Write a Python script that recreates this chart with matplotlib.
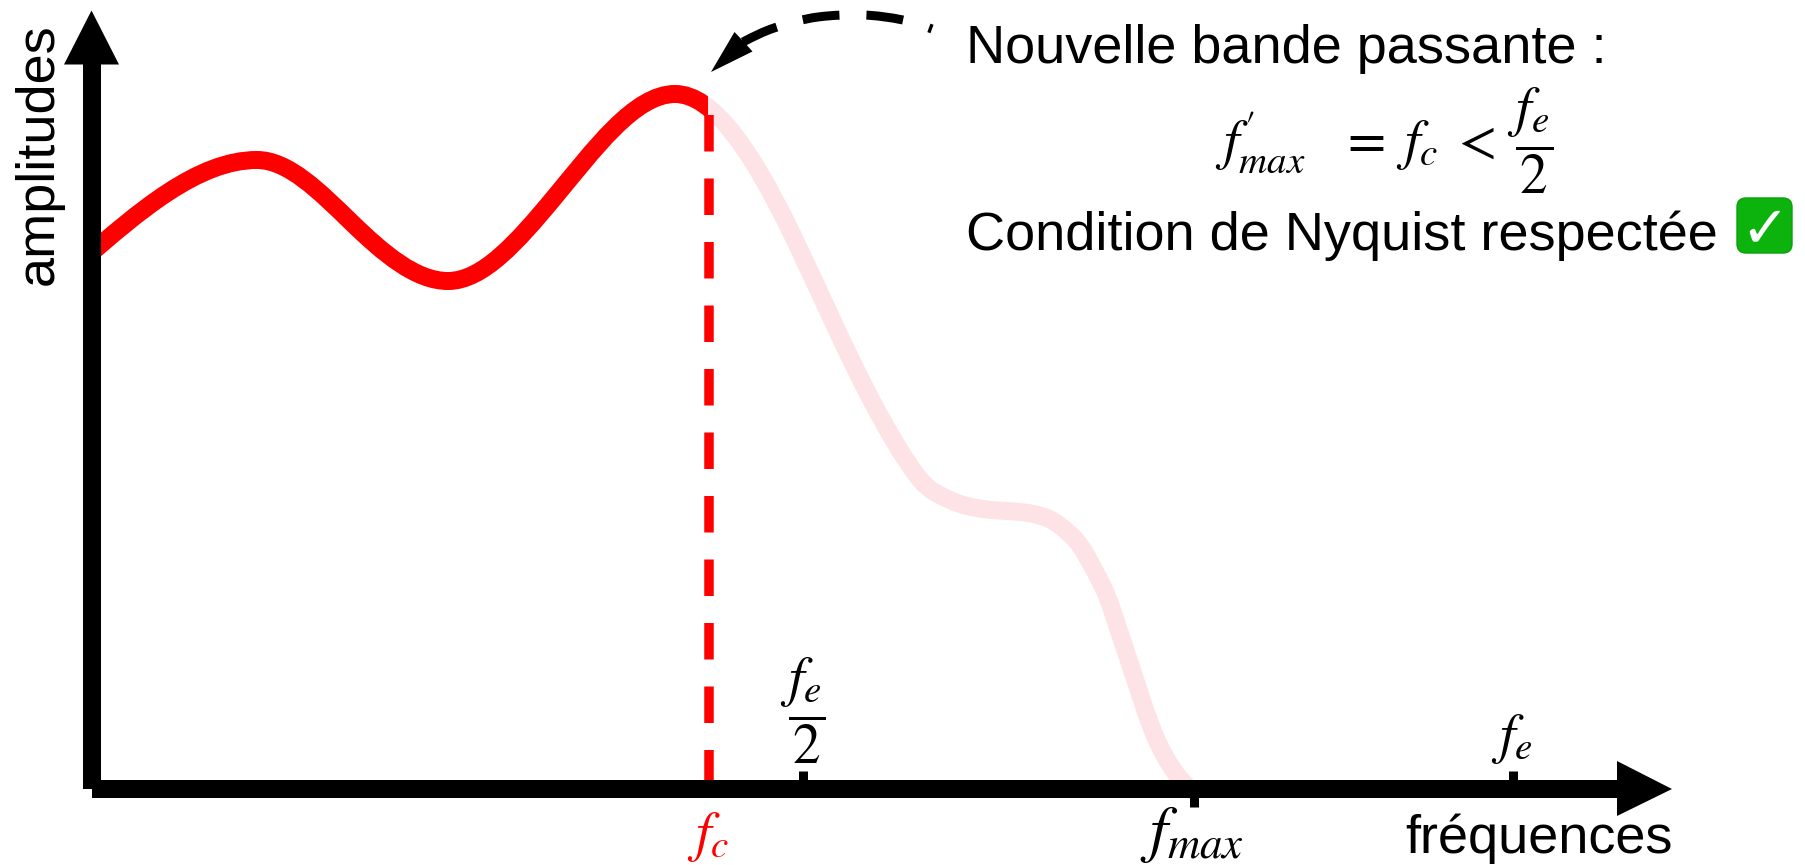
import numpy as np
import matplotlib
matplotlib.use("Agg")
import matplotlib.pyplot as plt
from matplotlib.path import Path
from matplotlib.patches import PathPatch, Rectangle, FancyBboxPatch, Polygon

plt.rcParams['font.family'] = ['Liberation Sans', 'DejaVu Sans']
plt.rcParams['mathtext.fontset'] = 'stix'

# Spectrum: nodes and local slope of the curve there
curve_x = [80, 257, 351, 448, 553, 675, 790, 875, 918, 950, 983, 1047, 1073, 1103, 1122, 1160, 1195]
curve_y = [262.5, 160, 222, 281, 199, 94, 230, 407, 477, 500, 509, 518, 537, 587, 640, 747, 792]
curve_slope = [-0.87, 0, 0.97, 0, -1.2, 0, 2.05, 1.85, 1.3, 0.48, 0.15, 0.4, 0.95, 1.95, 2.9, 2.0, 0.6]

fc_x = 709
fe2_x = 802.5
fmax_x = 1193.5
fe_x = 1513
baseline_y = 789
axis_x = 91.5

dash_curve_x = [743, 774, 818, 863, 903, 932]
dash_curve_y = [42, 28, 17, 15, 20, 29]
dash_curve_slope = [-0.52, -0.33, -0.13, 0.03, 0.2, 0.36]

RED = '#ff0000'
PALE = '#fde3e5'
PX = 72 / 100


def smooth_path(xs, ys, slopes):
    verts = [(xs[0], ys[0])]
    codes = [Path.MOVETO]
    for i in range(len(xs) - 1):
        d = (xs[i + 1] - xs[i]) / 3
        verts += [(xs[i] + d, ys[i] + d * slopes[i]),
                  (xs[i + 1] - d, ys[i + 1] - d * slopes[i + 1]),
                  (xs[i + 1], ys[i + 1])]
        codes += [Path.CURVE4] * 3
    return Path(np.array(verts, dtype=float), codes)


fig = plt.figure(figsize=(18.05, 8.65), dpi=100)
ax = fig.add_axes([0, 0, 1, 1])
ax.set_xlim(0, 1805)
ax.set_ylim(865, 0)
ax.axis('off')

# spectrum, kept part and removed part
curve = smooth_path(curve_x, curve_y, curve_slope)
for col, x0, x1, z in [(PALE, fc_x - 1, 1300, 1), (RED, axis_x, fc_x - 1, 2)]:
    patch = PathPatch(curve, fill=False, edgecolor=col, lw=18 * PX, capstyle='butt', joinstyle='round', zorder=z)
    ax.add_patch(patch)
    patch.set_clip_path(Rectangle((x0, 0), x1 - x0, 865, transform=ax.transData))

# cutoff line
ax.plot([fc_x, fc_x], [115, baseline_y], color=RED, lw=9.5 * PX, solid_capstyle='butt',
        dashes=(36.5 / 9.5, 27 / 9.5), dash_capstyle='butt', zorder=3)

# ticks
ax.plot([fe2_x, fe2_x], [771, baseline_y], color='k', lw=9 * PX, solid_capstyle='butt', zorder=4)
ax.plot([fe_x, fe_x], [771, baseline_y], color='k', lw=9 * PX, solid_capstyle='butt', zorder=4)
ax.plot([fmax_x, fmax_x], [baseline_y, 807], color='k', lw=9 * PX, solid_capstyle='butt', zorder=4)

# axes with arrow heads
ax.plot([axis_x, axis_x], [789, 60], color='k', lw=18 * PX, solid_capstyle='butt', zorder=5)
ax.add_patch(Polygon([(64, 64.5), (119, 64.5), (axis_x, 10.5)], closed=True, fc='k', ec='none', zorder=5))
ax.plot([axis_x, 1620], [baseline_y, baseline_y], color='k', lw=18 * PX, solid_capstyle='butt', zorder=5)
ax.add_patch(Polygon([(1617, 761), (1617, 816), (1672, baseline_y)], closed=True, fc='k', ec='none', zorder=5))

# dashed curved arrow
dash_patch = PathPatch(smooth_path(dash_curve_x, dash_curve_y, dash_curve_slope), fill=False, edgecolor='k',
                       lw=9 * PX, capstyle='butt', linestyle=(0, (37 / 9, 27 / 9)), zorder=6)
ax.add_patch(dash_patch)
ax.add_patch(Polygon([(711, 72), (734.5, 32), (744, 42), (752.5, 51.5)], closed=True, fc='k', ec='none', zorder=6))

# texts
FS = 39
ax.text(966, 63, "Nouvelle bande passante :", fontsize=FS, color='k', va='baseline', ha='left')
ax.text(966, 250, "Condition de Nyquist respectée", fontsize=FS, color='k', va='baseline', ha='left')
ax.text(1405, 853, "fréquences", fontsize=FS, color='k', va='baseline', ha='left')
ax.text(52.7, 285, "amplitudes", fontsize=FS, color='k', rotation=90, rotation_mode='anchor',
        va='baseline', ha='left')

MS = 40
ax.text(1384, 141, r"$f^{\prime}_{max}\;\;\;=\;f_c\;<\;\dfrac{f_e}{2}$", fontsize=MS, color='k',
        ha='center', va='center')
ax.text(803, 711, r"$\dfrac{f_e}{2}$", fontsize=MS, color='k', ha='center', va='center')
ax.text(1512, 752, r"$f_e$", fontsize=MS, color='k', ha='center', va='baseline')
ax.text(1192, 850, r"$f_{max}$", fontsize=46, color='k', ha='center', va='baseline')
ax.text(708, 850, r"$f_c$", fontsize=MS, color=RED, ha='center', va='baseline')

# check-mark emoji
ax.add_patch(FancyBboxPatch((1742, 203), 45, 45, boxstyle='round,pad=5,rounding_size=9', fc='#0cb30c',
                            ec='#0a9f0a', lw=1, zorder=6))
ax.text(1764.5, 230, "\u2713", family='DejaVu Sans', fontsize=42, color='white', ha='center', va='center',
        fontweight='bold', zorder=7)

fig.savefig('out.png', dpi=100, facecolor='white')
